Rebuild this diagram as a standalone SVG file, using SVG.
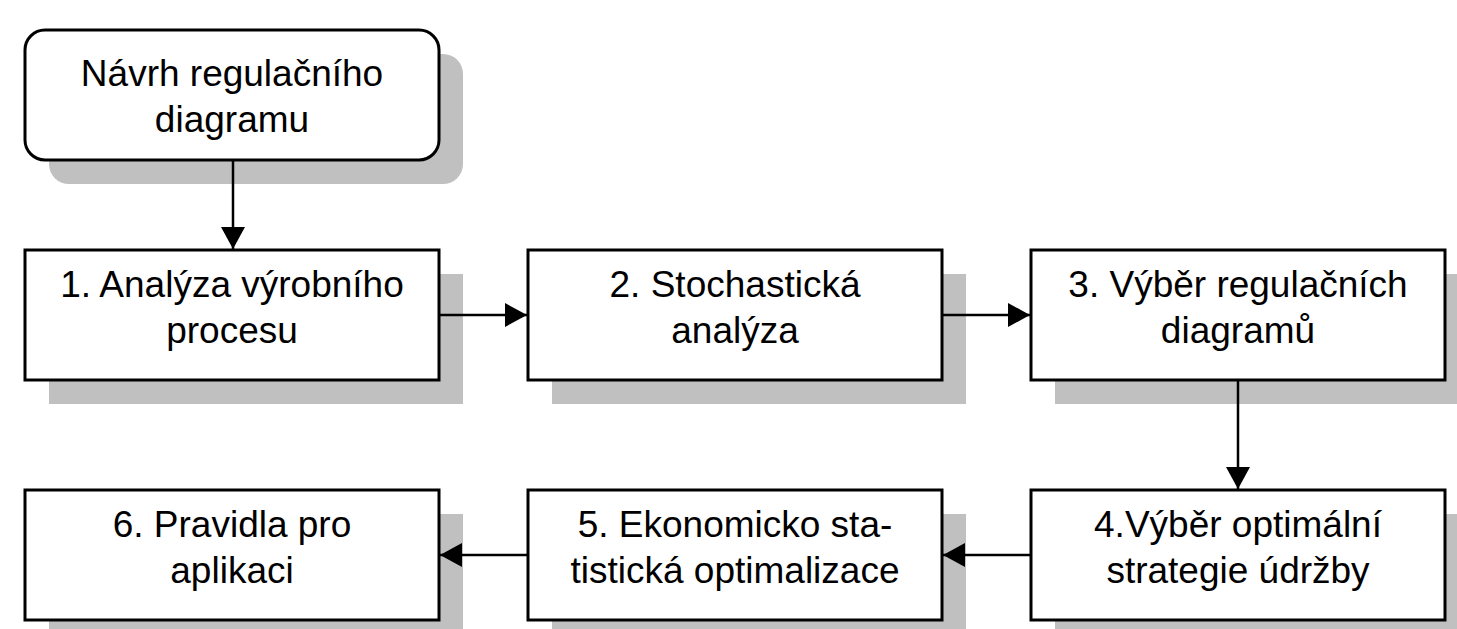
<svg xmlns="http://www.w3.org/2000/svg" width="1457" height="629" viewBox="0 0 1457 629">
<style>
.shadow{fill:#c0c0c0;stroke:none}
.box{fill:#ffffff;stroke:#000000;stroke-width:3}
.lbl{font-family:"Liberation Sans",Arial,sans-serif;font-size:37px;fill:#000000;text-anchor:middle}
.conn{stroke:#000000;stroke-width:2.5;fill:none;marker-end:url(#arr)}
</style>
<defs>
<marker id="arr" markerUnits="userSpaceOnUse" markerWidth="22" markerHeight="24" refX="22" refY="12" orient="auto">
<path d="M0,0 L22,12 L0,24 Z" fill="#000000"/>
</marker>
</defs>
<rect width="1457" height="629" fill="#ffffff"/>
<g id="start">
<rect class="shadow" x="49" y="54" width="414" height="130" rx="20"/>
<rect class="box" x="25" y="30" width="414" height="130" rx="20"/>
<text class="lbl" x="232" y="86">Návrh regulačního</text>
<text class="lbl" x="232" y="132">diagramu</text>
</g>
<g id="n1">
<rect class="shadow" x="49" y="274" width="414" height="130"/>
<rect class="box" x="25" y="250" width="414" height="130"/>
<text class="lbl" x="232" y="297">1. Analýza výrobního</text>
<text class="lbl" x="232" y="343">procesu</text>
</g>
<g id="n2">
<rect class="shadow" x="552" y="274" width="414" height="130"/>
<rect class="box" x="528" y="250" width="414" height="130"/>
<text class="lbl" x="735" y="297">2. Stochastická</text>
<text class="lbl" x="735" y="343">analýza</text>
</g>
<g id="n3">
<rect class="shadow" x="1055" y="274" width="414" height="130"/>
<rect class="box" x="1031" y="250" width="414" height="130"/>
<text class="lbl" x="1238" y="297">3. Výběr regulačních</text>
<text class="lbl" x="1238" y="343">diagramů</text>
</g>
<g id="n4">
<rect class="shadow" x="1055" y="514" width="414" height="130"/>
<rect class="box" x="1031" y="490" width="414" height="130"/>
<text class="lbl" x="1238" y="537">4.Výběr optimální</text>
<text class="lbl" x="1238" y="583">strategie údržby</text>
</g>
<g id="n5">
<rect class="shadow" x="552" y="514" width="414" height="130"/>
<rect class="box" x="528" y="490" width="414" height="130"/>
<text class="lbl" x="735" y="537">5. Ekonomicko sta-</text>
<text class="lbl" x="735" y="583">tistická optimalizace</text>
</g>
<g id="n6">
<rect class="shadow" x="49" y="514" width="414" height="130"/>
<rect class="box" x="25" y="490" width="414" height="130"/>
<text class="lbl" x="232" y="537">6. Pravidla pro</text>
<text class="lbl" x="232" y="583">aplikaci</text>
</g>
<g id="connectors">
<line class="conn" x1="233" y1="160" x2="233" y2="249"/>
<line class="conn" x1="439" y1="315" x2="527" y2="315"/>
<line class="conn" x1="942" y1="315" x2="1030" y2="315"/>
<line class="conn" x1="1238" y1="380" x2="1238" y2="489"/>
<line class="conn" x1="1031" y1="555" x2="943" y2="555"/>
<line class="conn" x1="528" y1="555" x2="440" y2="555"/>
</g>
</svg>
